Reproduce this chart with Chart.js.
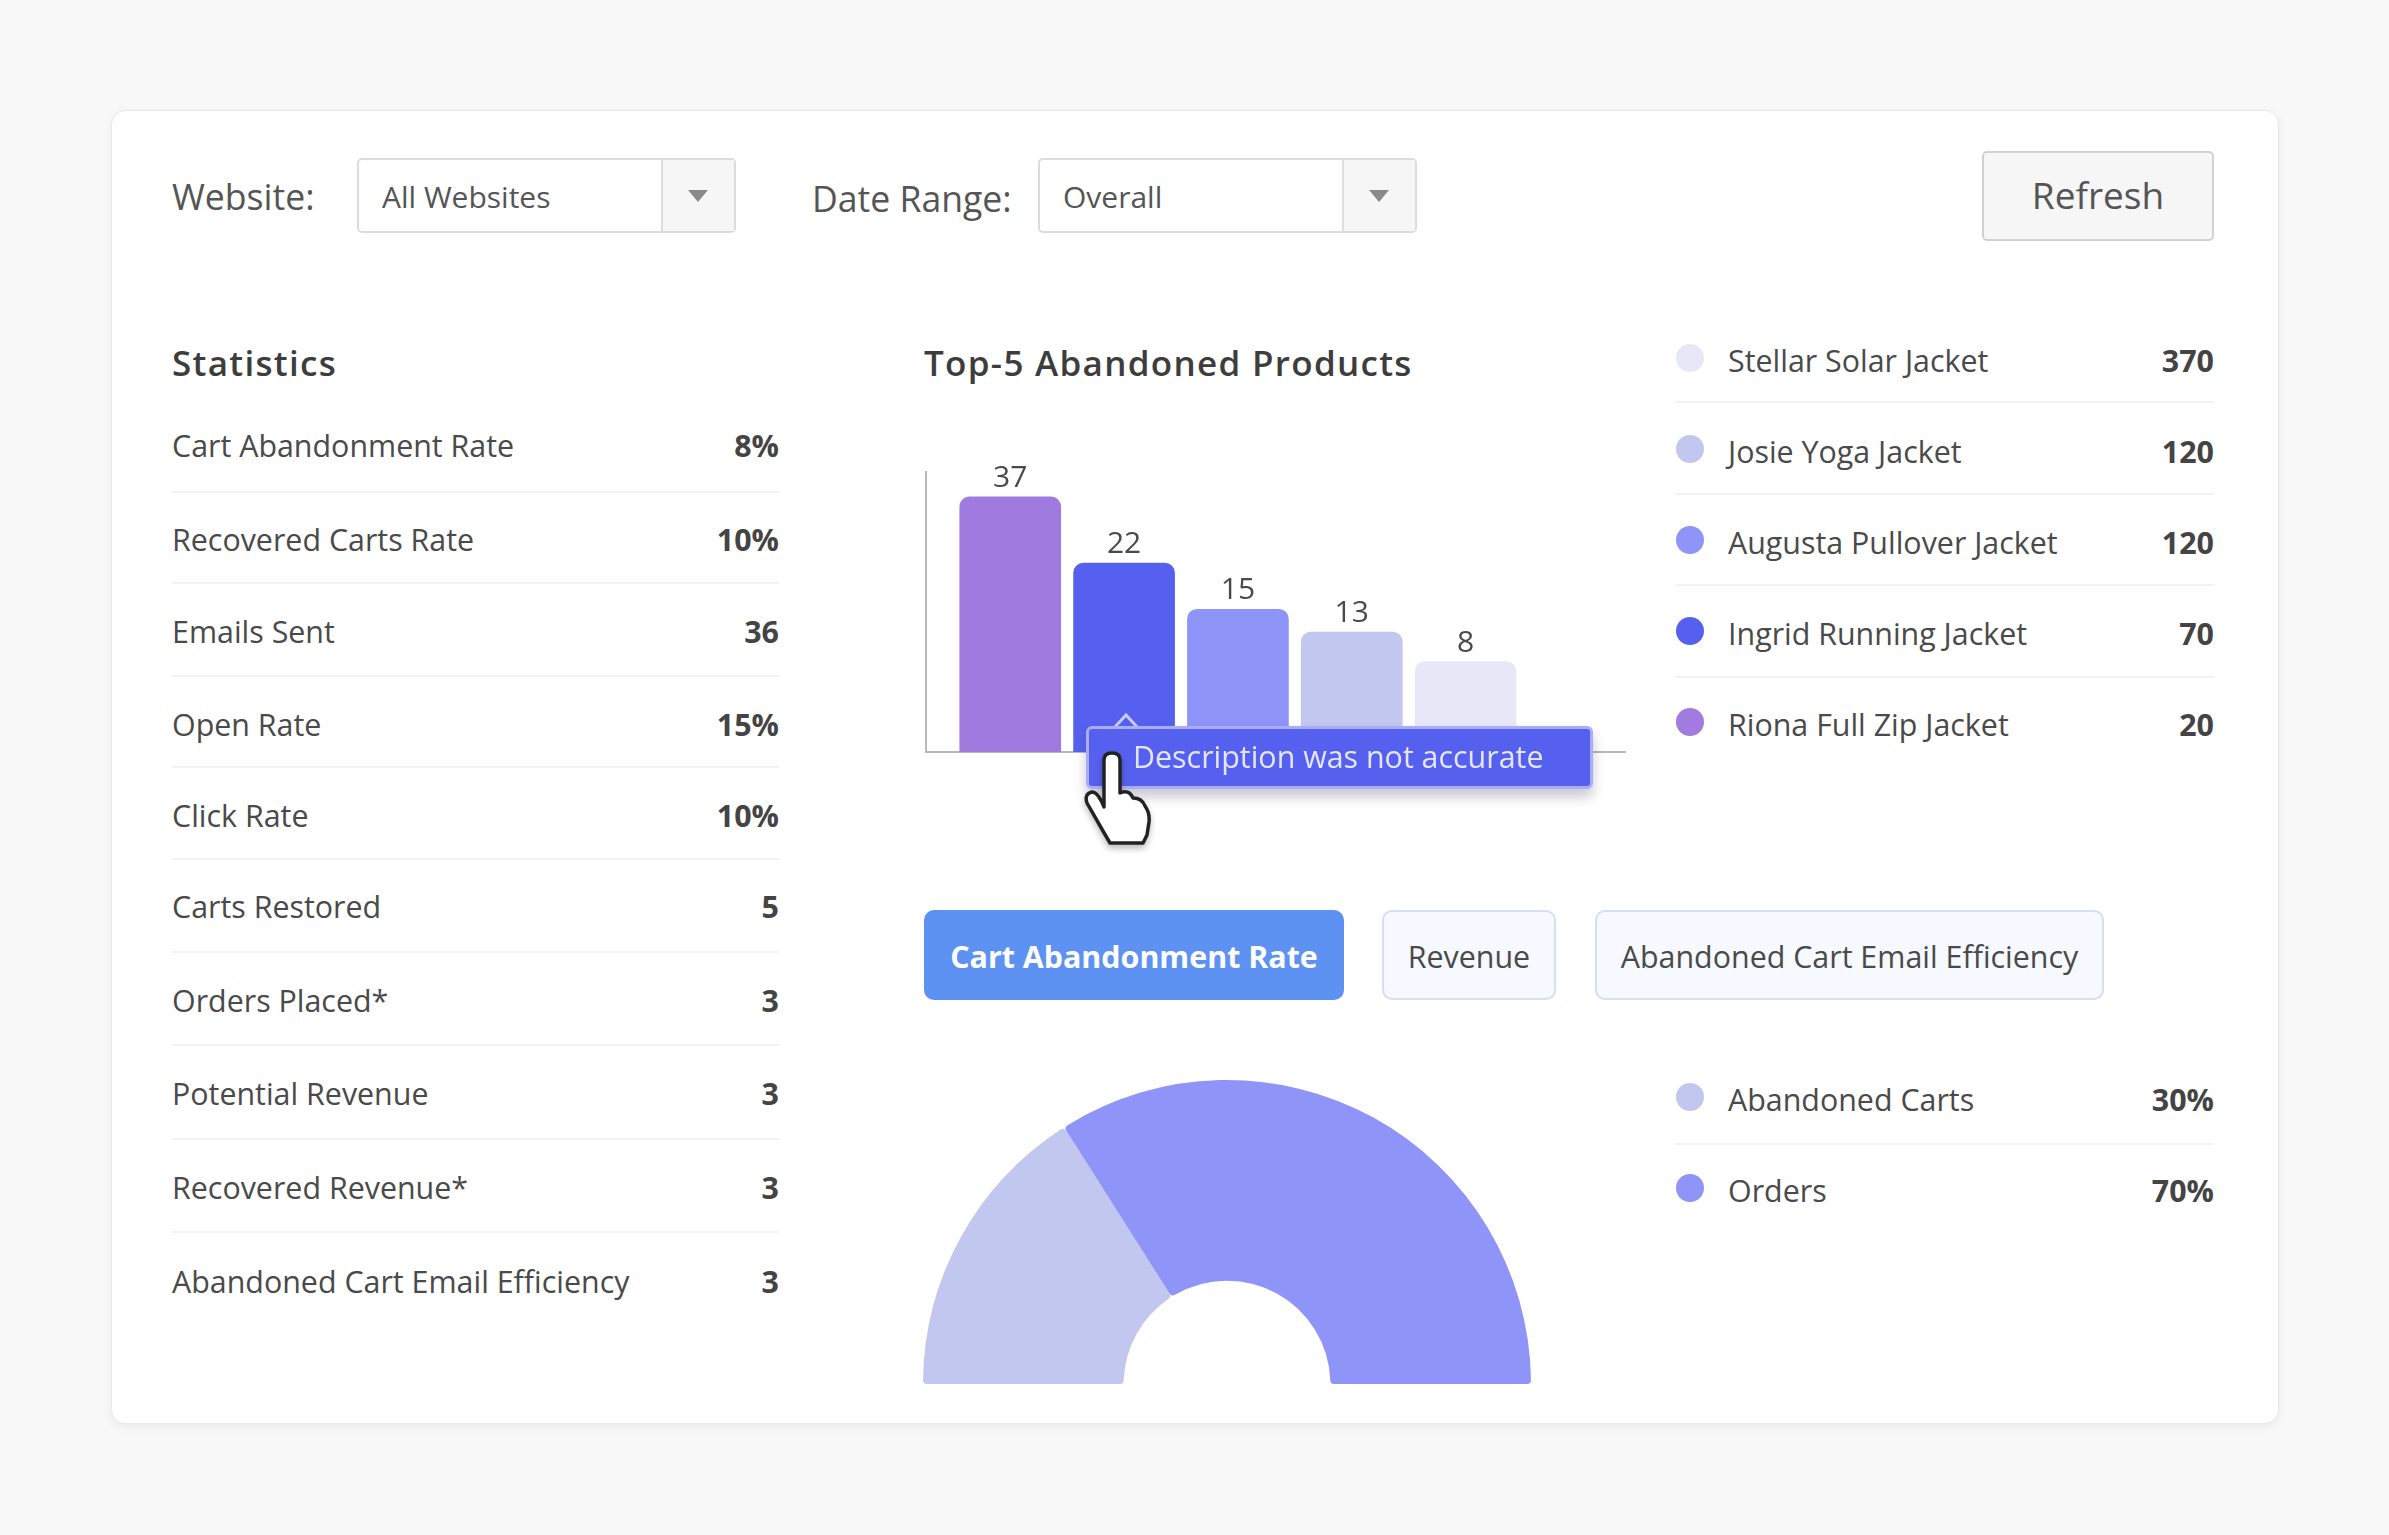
<!DOCTYPE html>
<html>
<head>
<meta charset="utf-8">
<title>Abandoned carts</title>
<script src="https://cdn.jsdelivr.net/npm/chart.js@4"></script>
<style>
html, body { margin: 0; padding: 0; background: #f8f8f8; }
body { width: 2389px; height: 1535px; position: relative; overflow: hidden; font-family: "Open Sans", sans-serif; color: #444; }
.abs { position: absolute; white-space: nowrap; }
#card { position: absolute; left: 111px; top: 110px; width: 2166px; height: 1312px; background: #fff; border: 1px solid #e8e8e8; border-radius: 14px; box-shadow: 0 3px 10px rgba(0,0,0,0.06); }
.lbl { font-size: 35.6px; line-height: 40px; color: #555; }
.select { position: absolute; top: 158px; width: 379px; height: 75px; box-sizing: border-box; border: 2px solid #dcdcdc; border-radius: 5px; background: #fff; font-size: 30px; line-height: 73px; padding-left: 23px; color: #555; }
.select i { position: absolute; right: 0; top: 0; bottom: 0; width: 71px; background: #f6f6f6; border-left: 2px solid #dedede; }
.select i:after { content: ""; position: absolute; left: 25px; top: 30px; border-left: 10px solid transparent; border-right: 10px solid transparent; border-top: 12px solid #8a8a8a; }
#refresh { left: 1982px; top: 151px; width: 232px; height: 90px; box-sizing: border-box; background: #f6f6f6; border: 2px solid #d2d2d2; border-radius: 5px; font-size: 37px; line-height: 84px; text-align: center; color: #555; font-weight: 500; }
.head { font-size: 35px; line-height: 44px; font-weight: 600; color: #3d3d3d; letter-spacing: 1.3px; }
.row { font-size: 30.4px; line-height: 40px; color: #4a4a4a; }
.val { font-size: 30.4px; line-height: 40px; font-weight: 700; color: #444; text-align: right; }
.sep { position: absolute; height: 2px; background: #f3f3f3; }
.dot { position: absolute; width: 28px; height: 28px; border-radius: 50%; }
.tab { position: absolute; top: 910px; height: 90px; box-sizing: border-box; border-radius: 10px; font-size: 30.4px; line-height: 90px; text-align: center; background: #f6f9ff; border: 2px solid #d3dff2; color: #4a4a4a; }
.tab.on { background: #5d92f2; border-color: #5d92f2; color: #fff; font-weight: 700; }
#tip { left: 1086px; top: 726px; width: 507px; height: 63px; box-sizing: border-box; background: #5560ee; border: 3px solid #a9adf9; border-radius: 6px; color: #e4e6ff; font-size: 30.4px; line-height: 55px; padding-left: 44px; box-shadow: 0 8px 12px rgba(60,60,90,0.28); }
#tipArrow { left: 1112px; top: 713px; }
#hand { left: 1083px; top: 751px; }
canvas { position: absolute; }
</style>
</head>
<body>
<div id="card"></div>
<div class="abs lbl" style="left:172px;top:176px">Website:</div>
<div class="select" style="left:357px">All Websites<i></i></div>
<div class="abs lbl" style="left:812px;top:178px">Date Range:</div>
<div class="select" style="left:1038px">Overall<i></i></div>
<div class="abs" id="refresh">Refresh</div>
<div class="abs head" style="left:172px;top:341px">Statistics</div>
<div class="abs head" style="left:924px;top:341px">Top-5 Abandoned Products</div>
<div id="rows"></div>

<canvas id="barChart" width="717" height="314" style="left:913px;top:450px;width:717px;height:314px"></canvas>
<canvas id="gaugeChart" width="620" height="308" style="left:917px;top:1078px;width:620px;height:308px"></canvas>

<svg class="abs" id="tipArrow" width="30" height="18" viewBox="0 0 30 18"><path d="M1 16 L14 2 L27 16 L27 18 L1 18 Z" fill="#5560ee"/><path d="M2 15 L14 2 L26 15" fill="none" stroke="#c9ccfb" stroke-width="3"/></svg>
<div class="abs" id="tip">Description was not accurate</div>
<svg class="abs" id="hand" width="72" height="98" viewBox="0 0 72 98" style="filter:drop-shadow(0 4px 3px rgba(0,0,0,0.25))"><path d="M21 9 Q21 2 29 2 Q37 2 37 9 L37 42 Q46 38 50 47 Q59 47 62 55 Q67 62 66 71 L64 84 L60 92 L27 92 L20 80 L4 52 Q1 43 9 41 Q15 41 21 56 Z" fill="#fff" stroke="#222" stroke-width="3.5" stroke-linejoin="round"/></svg>

<script>
// Statistics list
const statLabels = ['Cart Abandonment Rate', 'Recovered Carts Rate', 'Emails Sent', 'Open Rate', 'Click Rate', 'Carts Restored', 'Orders Placed*', 'Potential Revenue', 'Recovered Revenue*', 'Abandoned Cart Email Efficiency'];
const statValues = ['8%', '10%', '36', '15%', '10%', '5', '3', '3', '3', '3'];

// Top-5 list, same order as the reference
const productNames = ['Stellar Solar Jacket', 'Josie Yoga Jacket', 'Augusta Pullover Jacket', 'Ingrid Running Jacket', 'Riona Full Zip Jacket'];
const productTotals = ['370', '120', '120', '70', '20'];
const productColors = ['#e6e8f7', '#c2c7f0', '#8f95f8', '#5561ee', '#a07be0'];

// Bars, left to right. The bars in the picture are not drawn to scale with their
// printed numbers, so lengths are read off the picture and printed labels kept apart
const barCategories = ['Riona Full Zip Jacket', 'Ingrid Running Jacket', 'Augusta Pullover Jacket', 'Josie Yoga Jacket', 'Stellar Solar Jacket'];
const barLengths = [37, 27.4, 20.7, 17.4, 13.1];
const barLabels = ['37', '22', '15', '13', '8'];
const barColors = ['#9f7bdf', '#5561ee', '#8f95f8', '#c2c7f0', '#e6e8f7'];

const tabLabels = ['Cart Abandonment Rate', 'Revenue', 'Abandoned Cart Email Efficiency'];

// Half doughnut. Legend says 30/70, the arcs as drawn split closer to 32/68
const gaugeLabels = ['Abandoned Carts', 'Orders'];
const gaugeLegend = ['30%', '70%'];
const gaugeShares = [32, 68];
const gaugeColors = ['#c2c7f0', '#8f95f8'];

function addEl(cls, css, text) {
    const el = document.createElement('div');
    el.className = cls;
    el.style.cssText = css;
    if (text) el.textContent = text;
    document.getElementById('rows').appendChild(el);
    return el;
}

const statY = [445, 539, 631, 724, 815, 906, 1000, 1093, 1187, 1281];
const statSepY = [491, 582, 675, 766, 858, 951, 1044, 1138, 1231];
statLabels.forEach((name, i) => {
    addEl('abs row', `left:172px;top:${statY[i] - 19}px`, name);
    addEl('abs val', `right:${2389 - 779}px;top:${statY[i] - 19}px`, statValues[i]);
});
statSepY.forEach(y => addEl('sep', `left:172px;width:607px;top:${y}px`));

function legendList(names, values, colors, rowY, sepY) {
    names.forEach((name, i) => {
        addEl('dot', `left:1676px;top:${rowY[i] - 15}px;background:${colors[i]}`);
        addEl('abs row', `left:1728px;top:${rowY[i] - 18}px`, name);
        addEl('abs val', `right:${2389 - 2214}px;top:${rowY[i] - 18}px`, values[i]);
    });
    sepY.forEach(y => addEl('sep', `left:1675px;width:539px;top:${y}px`));
}
legendList(productNames, productTotals, productColors, [359, 450, 541, 632, 723], [401, 493, 584, 676]);
legendList(gaugeLabels, gaugeLegend, gaugeColors, [1098, 1189], [1143]);

const tabBoxes = [[924, 420], [1382, 174], [1595, 509]];
tabLabels.forEach((t, i) => {
    addEl(i === 0 ? 'tab on' : 'tab', `left:${tabBoxes[i][0]}px;width:${tabBoxes[i][1]}px`, t);
});

// Prints the numbers above the bars
const barLabelPlugin = {
    id: 'barLabelPlugin',
    afterDatasetsDraw(chart) {
        const ctx = chart.ctx;
        ctx.save();
        ctx.font = '400 30px "Open Sans"';
        ctx.fillStyle = '#4a4a4a';
        ctx.textAlign = 'center';
        ctx.textBaseline = 'alphabetic';
        chart.getDatasetMeta(0).data.forEach((bar, i) => {
            ctx.fillText(barLabels[i], bar.x, bar.y - 10);
        });
        ctx.restore();
    }
};

new Chart(document.getElementById('barChart'), {
    type: 'bar',
    data: {
        datasets: [{
            label: 'Top-5 Abandoned Products',
            data: barCategories.map((c, i) => ({ x: i + 1, y: barLengths[i] })),
            backgroundColor: barColors,
            barThickness: 101,
            borderRadius: 10
        }]
    },
    options: {
        responsive: false,
        devicePixelRatio: 1,
        animation: false,
        layout: { padding: { left: 5, right: 5, top: 22, bottom: 4 } },
        plugins: { legend: { display: false }, tooltip: { enabled: false } },
        scales: {
            x: {
                type: 'linear', offset: false, min: 0.26, max: 6.4,
                grid: { display: false, offset: false }, ticks: { display: false },
                border: { display: true, color: '#b8b8b8', width: 2 }
            },
            y: {
                min: 0, max: 40.6,
                grid: { display: false }, ticks: { display: false },
                border: { display: true, color: '#b8b8b8', width: 2 }
            }
        }
    },
    plugins: [barLabelPlugin]
});

new Chart(document.getElementById('gaugeChart'), {
    type: 'doughnut',
    data: {
        labels: gaugeLabels,
        datasets: [{ data: gaugeShares, backgroundColor: gaugeColors, borderWidth: 0, borderRadius: 4 }]
    },
    options: {
        responsive: false,
        devicePixelRatio: 1,
        animation: false,
        rotation: -90,
        circumference: 180,
        cutout: '34%',
        layout: { padding: { top: 2, bottom: 2 } },
        plugins: { legend: { display: false }, tooltip: { enabled: false } }
    }
});
</script>
</body>
</html>
